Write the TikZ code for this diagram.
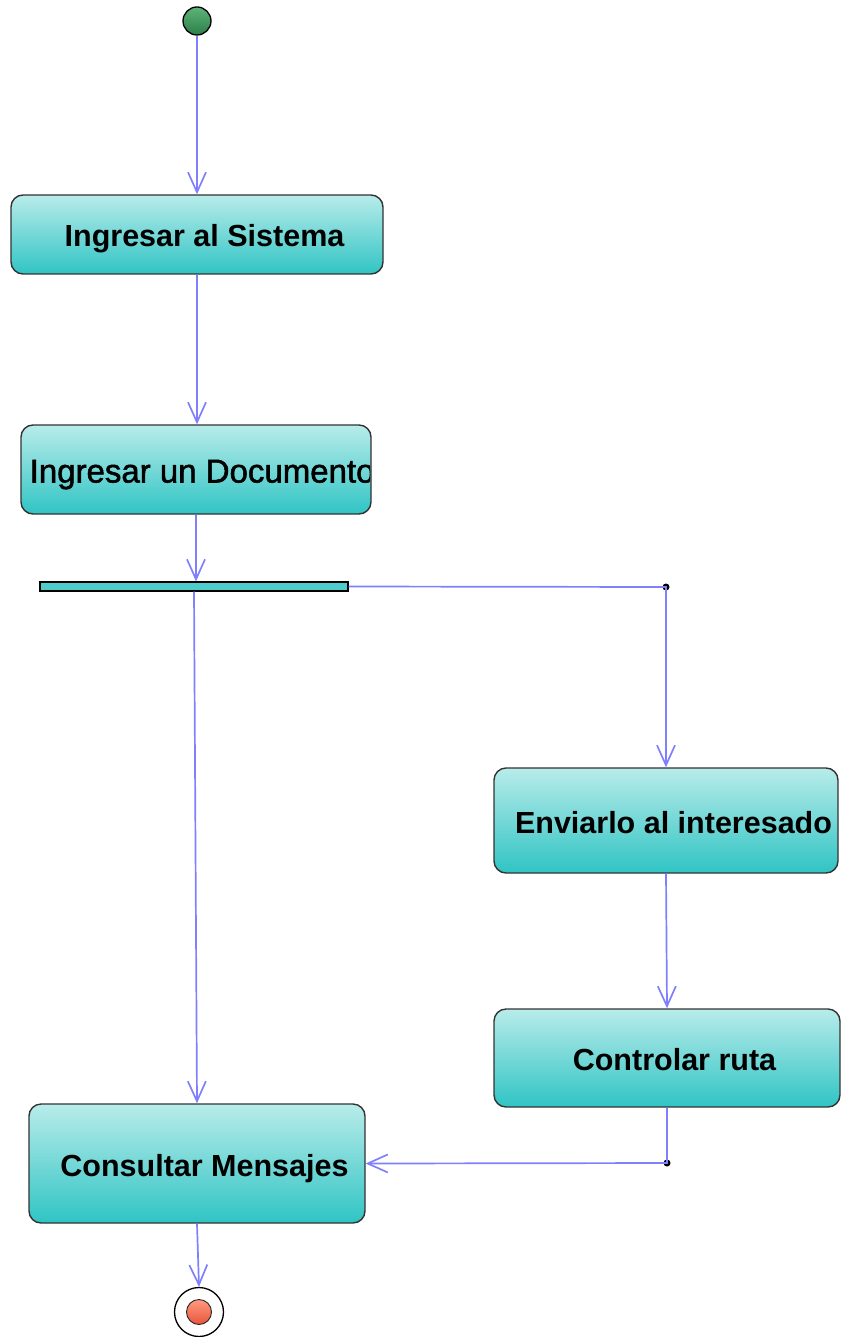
\documentclass[tikz,border=0pt]{standalone}
\usepackage{fontspec}
\setmainfont{Liberation Sans}
\newfontfamily\docfont[BoldFont=Liberation Sans, BoldFeatures={FakeBold=1.6}]{Liberation Sans}
\usetikzlibrary{arrows.meta,calc}
\definecolor{flow}{HTML}{8080FF}
\definecolor{boxtop}{HTML}{B8ECEA}
\definecolor{boxbot}{HTML}{30C4C4}
\definecolor{boxline}{HTML}{333333}
\definecolor{starttop}{HTML}{5DB47A}
\definecolor{startbot}{HTML}{2C7E47}
\definecolor{endtop}{HTML}{FF9A80}
\definecolor{endbot}{HTML}{E8553A}
\tikzset{
  actbox/.style={draw=boxline, line width=1.4pt, rounded corners=12pt,
    top color=boxtop, bottom color=boxbot, inner sep=0pt},
  acttext/.style={anchor=base, inner sep=0pt, font=\fontsize{30.5}{36}\selectfont\bfseries},
  flowline/.style={draw=flow, line width=1.7pt, -{Straight Barb[length=20pt,width=18pt]}},
  junction/.style={circle, fill=black, inner sep=0pt, minimum size=7pt},
}
\begin{document}
\begin{tikzpicture}[x=1pt,y=-1pt]
\useasboundingbox (0,0) rectangle (840,1337);
% start
\node[circle, draw=black, line width=1.3pt, top color=starttop, bottom color=startbot, minimum size=28pt, inner sep=0pt] (start) at (197,21) {};
% activity boxes
\node[actbox, minimum width=372pt, minimum height=79pt] (b1) at (197,234.5) {};
\node[acttext] (t1) at ($(b1.center)+(7.5,12.5)$) {Ingresar al Sistema};
\node[actbox, minimum width=350pt, minimum height=89pt] (b2) at (196,469.5) {};
\begin{scope}
\clip[rounded corners=12pt] (21,425) rectangle (370,514);
\node[anchor=base west, inner sep=0pt, font=\docfont\fontsize{33}{38}\selectfont\bfseries] (t2) at (29.5,482.5) {Ingresar un Documento};
\end{scope}
% fork bar
\node[draw=black, line width=1.2pt, fill=boxbot!85!white, minimum width=308pt, minimum height=9pt, inner sep=0pt] (bar) at (194,586.5) {};
\node[actbox, minimum width=344pt, minimum height=105pt] (env) at (666,820.5) {};
\node[acttext] (t3) at ($(env.center)+(7.5,12.5)$) {Enviarlo al interesado};
\node[actbox, minimum width=346pt, minimum height=98pt] (ctrl) at (667,1058) {};
\node[acttext] (t4) at ($(ctrl.center)+(7.5,12.5)$) {Controlar ruta};
\node[actbox, minimum width=336pt, minimum height=119pt] (cm) at (197,1163.5) {};
\node[acttext] (t5) at ($(cm.center)+(7.5,12.5)$) {Consultar Mensajes};
% end
\node[circle, draw=black, fill=white, line width=1.3pt, minimum size=49pt, inner sep=0pt] (end) at (199,1312) {};
\node[circle, draw=black!85, line width=0.9pt, top color=endtop, bottom color=endbot, minimum size=25pt, inner sep=0pt] (endin) at (end.center) {};
% junctions
\node[junction] (j1) at (666,587) {};
\node[junction] (j2) at (667,1163) {};
% connectors
\draw[flowline] (start.south) -- (b1.north);
\draw[flowline] (b1.south) -- (b1.south |- b2.north);
\draw[flowline] (b2.south) -- (b2.south |- bar.north);
\draw[flowline] (bar.south) -- (cm.north);
\draw[flowline] (bar.east) -- (j1.center) -- (env.north);
\draw[flowline] (env.south) -- (ctrl.north);
\draw[flowline] (ctrl.south) -- (j2.center) -- (cm.east);
\draw[flowline] (cm.south) -- (end.north);
\end{tikzpicture}
\end{document}
